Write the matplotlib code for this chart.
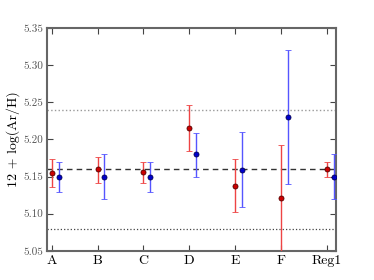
import numpy as np
import matplotlib
matplotlib.use('Agg')
import matplotlib.pyplot as plt

plt.rcParams['font.family'] = 'serif'
plt.rcParams['font.serif'] = ['cmr10', 'DejaVu Serif']
plt.rcParams['mathtext.fontset'] = 'cm'
plt.rcParams['axes.formatter.use_mathtext'] = True

# regions and abundances
regions = ['A', 'B', 'C', 'D', 'E', 'F', 'Reg1']
red_val = [5.155, 5.160, 5.156, 5.215, 5.138, 5.121, 5.160]
red_lo = [5.136, 5.141, 5.141, 5.184, 5.103, 5.040, 5.150]
red_hi = [5.173, 5.177, 5.170, 5.246, 5.173, 5.192, 5.169]
blue_val = [5.150, 5.150, 5.150, 5.180, 5.159, 5.230, 5.150]
blue_lo = [5.129, 5.120, 5.129, 5.149, 5.109, 5.140, 5.120]
blue_hi = [5.169, 5.180, 5.169, 5.209, 5.210, 5.320, 5.180]
mean_line = 5.16
band_hi, band_lo = 5.24, 5.08

x = np.arange(len(regions))
rv, bv = np.array(red_val), np.array(blue_val)

fig = plt.figure(figsize=(3.74, 2.8), dpi=100)
ax = fig.add_axes([0.126, 0.104, 0.772, 0.796])

ax.axhline(mean_line, color='#333333', ls=(0, (4, 3)), lw=1.0, zorder=1)
ax.axhline(band_hi, color='#999999', ls=':', lw=1.0, zorder=1)
ax.axhline(band_lo, color='#444444', ls=':', lw=0.9, zorder=1)

ax.errorbar(x, rv, yerr=[rv - np.array(red_lo), np.array(red_hi) - rv], fmt='o',
            color='#cc0000', mec='#550000', ms=3.6, mew=0.6,
            ecolor='#ee4444', elinewidth=1.0, capsize=2, capthick=0.8, zorder=3)
ax.errorbar(x + 0.15, bv, yerr=[bv - np.array(blue_lo), np.array(blue_hi) - bv], fmt='o',
            color='#0000cc', mec='#000055', ms=3.6, mew=0.6,
            ecolor='#5555ff', elinewidth=1.0, capsize=2, capthick=0.8, zorder=3)

ax.set_xlim(-0.1, 6.2)
ax.set_ylim(5.05, 5.35)
ax.set_xticks(x)
ax.set_xticklabels(regions, fontsize=10)
ax.set_yticks(np.arange(5.05, 5.351, 0.05))
ax.set_yticklabels(['%.2f' % v for v in np.arange(5.05, 5.351, 0.05)], fontsize=8, color='#555555')
ax.set_ylabel('12 + log(Ar/H)', fontsize=10, labelpad=2)
ax.tick_params(direction='in', top=True, right=True, length=4, width=0.8, color='#444444', pad=3)
for s in ax.spines.values():
    s.set_color('#666666')
    s.set_linewidth(1.5)

fig.savefig('out.png', dpi=100)
